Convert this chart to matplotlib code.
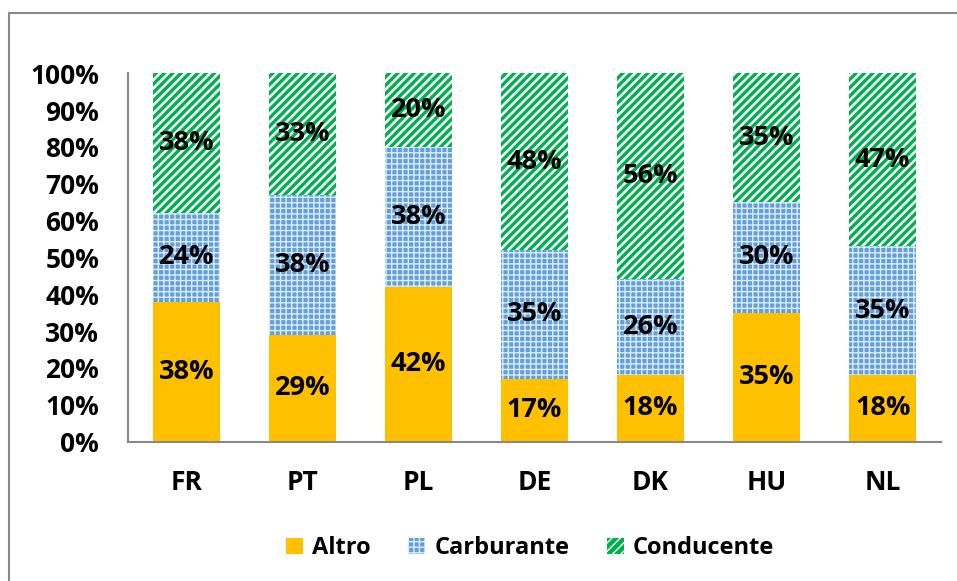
import matplotlib.pyplot as plt
from matplotlib.patches import Rectangle, Patch

countries = ["FR", "PT", "PL", "DE", "DK", "HU", "NL"]
altro = [38, 29, 42, 17, 18, 35, 18]
carburante = [24, 38, 38, 35, 26, 30, 35]
conducente = [38, 33, 20, 48, 56, 35, 47]

plt.rcParams["font.family"] = ["Open Sans", "DejaVu Sans"]
plt.rcParams["font.weight"] = "bold"

c_yellow = "#FFC000"
c_blue = "#62A0DA"
c_green = "#00B050"

fig = plt.figure(figsize=(9.57, 5.81), dpi=100)
ax = fig.add_axes([0.134, 0.240, 0.849, 0.634])

# outer chart border (cut off at right/bottom like the original)
fig.patches.append(Rectangle((9 / 957, -0.1), 1.2, 1 - 13 / 581 + 0.1,
                             transform=fig.transFigure, fill=False,
                             edgecolor="#888888", linewidth=1.5))

x = range(len(countries))
w = 0.58
bottom2 = [a + b for a, b in zip(altro, carburante)]

ax.bar(x, altro, w, color=c_yellow, linewidth=0)
with plt.rc_context({"hatch.linewidth": 1.0}):
    ax.bar(x, carburante, w, bottom=altro, color=c_blue, edgecolor="#dcebf7",
           hatch="+++", linewidth=0)
with plt.rc_context({"hatch.linewidth": 1.8}):
    ax.bar(x, conducente, w, bottom=bottom2, color=c_green, edgecolor="white",
           hatch="////", linewidth=0)

lab = dict(ha="center", va="center", fontsize=19.5, fontweight="bold")
for i in x:
    ax.text(i, altro[i] / 2, f"{altro[i]}%", **lab)
    ax.text(i, altro[i] + carburante[i] / 2, f"{carburante[i]}%", **lab)
    ax.text(i, bottom2[i] + conducente[i] / 2, f"{conducente[i]}%", **lab)

ax.set_xlim(-0.5, len(countries) - 0.5)
ax.set_ylim(0, 100)
ax.set_yticks(range(0, 101, 10))
ax.set_yticklabels([f"{v}%" for v in range(0, 101, 10)])
ax.set_xticks(list(x))
ax.set_xticklabels(countries)
ax.tick_params(axis="both", length=0, labelsize=19)
ax.tick_params(axis="x", pad=20)
ax.tick_params(axis="y", pad=21)

for s in ["top", "right"]:
    ax.spines[s].set_visible(False)
for s in ["left", "bottom"]:
    ax.spines[s].set_color("#888888")
    ax.spines[s].set_linewidth(1.5)

with plt.rc_context({"hatch.linewidth": 1.0}):
    p_blue = Patch(facecolor=c_blue, edgecolor="#dcebf7", hatch="+++",
                   linewidth=0, label="Carburante")
with plt.rc_context({"hatch.linewidth": 1.8}):
    p_green = Patch(facecolor=c_green, edgecolor="white", hatch="////",
                    linewidth=0, label="Conducente")
handles = [Patch(facecolor=c_yellow, linewidth=0, label="Altro"), p_blue, p_green]
fig.legend(handles=handles, loc="center", bbox_to_anchor=(0.554, 0.056),
           ncol=3, frameon=False, fontsize=17, handlelength=0.7,
           handleheight=0.7, columnspacing=1.6, handletextpad=0.4)

fig.savefig("out.png", dpi=100)
